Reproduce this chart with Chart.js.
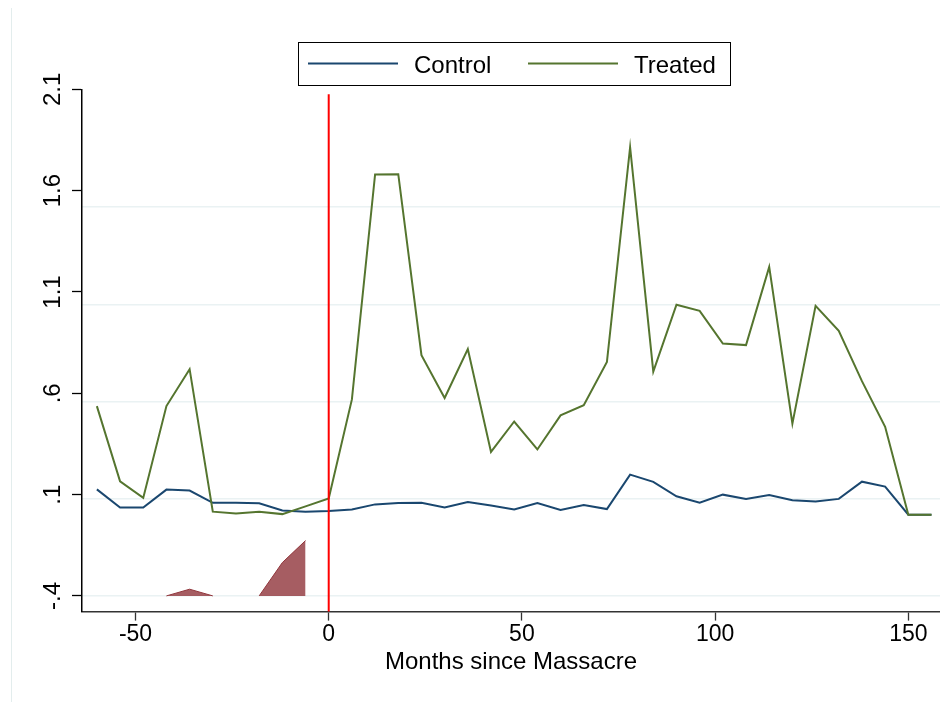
<!DOCTYPE html>
<html>
<head>
<meta charset="utf-8">
<script src="https://cdn.jsdelivr.net/npm/chart.js@4/dist/chart.umd.min.js"></script>
<style>
html, body { margin: 0; padding: 0; background: #fff; }
</style>
</head>
<body>
<canvas id="myChart" width="940" height="702"></canvas>
<script>
var months = [-60, -54, -48, -42, -36, -30, -24, -18, -12, -6, 0,
  6, 12, 18, 24, 30, 36, 42, 48, 54, 60, 66, 72, 78,
  84, 90, 96, 102, 108, 114, 120, 126, 132, 138, 144, 150, 156];

var control = [0.126, 0.037, 0.037, 0.125, 0.120, 0.060, 0.060, 0.057, 0.022, 0.016, 0.019,
  0.027, 0.052, 0.059, 0.060, 0.037, 0.064, 0.046, 0.027, 0.059, 0.024, 0.049, 0.029, 0.199,
  0.163, 0.092, 0.060, 0.100, 0.079, 0.098, 0.072, 0.066, 0.079, 0.164, 0.140, 0.001, 0.001];

var treated = [0.537, 0.166, 0.084, 0.537, 0.719, 0.016, 0.007, 0.016, 0.004, 0.042, 0.081,
  0.570, 1.680, 1.681, 0.788, 0.577, 0.818, 0.311, 0.461, 0.323, 0.491, 0.541, 0.755, 1.814,
  0.707, 1.037, 1.007, 0.846, 0.838, 1.224, 0.450, 1.032, 0.908, 0.660, 0.435, 0.001, 0.001];

// shaded area, drawn on the second (hidden) axis
var shaded = [null, null, null, 0, 0.069, 0, null, 0, 0.343, 0.569, null,
  null, null, null, null, null, null, null, null, null, null, null, null, null,
  null, null, null, null, null, null, null, null, null, null, null, null, null];

var xTicks = [-50, 0, 50, 100, 150];
var yTicks = [-0.4, 0.1, 0.6, 1.1, 1.6, 2.1];
var yTickLabels = ['-.4', '.1', '.6', '1.1', '1.6', '2.1'];
var y2Grid = [0, 1, 2, 3, 4];
var eventMonth = 0;

var font = '"Liberation Sans", Arial, sans-serif';

function pts(vals) {
  return months.map(function (m, i) { return { x: m, y: vals[i] }; });
}

var stataLayer = {
  id: 'stataLayer',
  beforeDraw: function (chart) {
    var c = chart.ctx;
    c.save();
    c.strokeStyle = '#e3eded';
    c.lineWidth = 1;
    c.beginPath();
    c.moveTo(11.5, 8);
    c.lineTo(11.5, 702);
    c.stroke();
    c.restore();
  },
  afterDatasetsDraw: function (chart) {
    var c = chart.ctx, a = chart.chartArea;
    var px = chart.scales.x.getPixelForValue(eventMonth);
    c.save();
    c.strokeStyle = '#ff0000';
    c.lineWidth = 2;
    c.beginPath();
    c.moveTo(px, a.top + 5);
    c.lineTo(px, a.bottom);
    c.stroke();
    c.restore();
  },
  afterDraw: function (chart) {
    var c = chart.ctx, ys = chart.scales.y;
    c.save();
    // rotated y labels
    c.fillStyle = '#000';
    c.font = '24px ' + font;
    c.textAlign = 'center';
    c.textBaseline = 'alphabetic';
    yTicks.forEach(function (v, i) {
      c.save();
      c.translate(60, ys.getPixelForValue(v));
      c.rotate(-Math.PI / 2);
      c.fillText(yTickLabels[i], 0, 0);
      c.restore();
    });
    // legend box
    c.strokeStyle = '#000';
    c.lineWidth = 1;
    c.strokeRect(298.5, 42.5, 432, 43);
    var lx = [308, 528];
    [0, 1].forEach(function (k) {
      var ds = chart.data.datasets[k];
      c.strokeStyle = ds.borderColor;
      c.lineWidth = 2;
      c.beginPath();
      c.moveTo(lx[k], 63.5);
      c.lineTo(lx[k] + 90, 63.5);
      c.stroke();
      c.textAlign = 'left';
      c.fillText(ds.label, lx[k] + 106, 72.5);
    });
    c.restore();
  }
};

var ctx = document.getElementById('myChart');

var myChart = new Chart(ctx, {
  type: 'line',
  data: {
    datasets: [
      {
        label: 'Control',
        data: pts(control),
        borderColor: '#1a476f',
        borderWidth: 2,
        pointRadius: 0,
        fill: false,
        tension: 0,
        order: 2
      },
      {
        label: 'Treated',
        data: pts(treated),
        borderColor: '#55752f',
        borderWidth: 2,
        pointRadius: 0,
        fill: false,
        tension: 0,
        order: 1
      },
      {
        label: 'Shaded',
        data: pts(shaded),
        yAxisID: 'y2',
        borderColor: '#90353b',
        backgroundColor: 'rgba(144, 53, 59, 0.8)',
        borderWidth: 1,
        pointRadius: 0,
        fill: { value: 0 },
        spanGaps: false,
        tension: 0,
        order: 3
      }
    ]
  },
  options: {
    responsive: false,
    animation: false,
    layout: { padding: { top: 89.3, left: 0, right: 0, bottom: 25 } },
    plugins: {
      legend: { display: false },
      tooltip: { enabled: false }
    },
    scales: {
      x: {
        type: 'linear',
        min: -63.85,
        max: 158.2,
        afterBuildTicks: function (s) { s.ticks = xTicks.map(function (v) { return { value: v }; }); },
        grid: { drawOnChartArea: false, tickLength: 9, tickColor: '#333', tickWidth: 1.3 },
        border: { color: '#333', width: 1.5 },
        ticks: {
          color: '#000',
          font: { family: font, size: 23 },
          padding: 0,
          autoSkip: false,
          maxRotation: 0,
          callback: function (v) { return String(v); }
        },
        title: {
          display: true,
          text: 'Months since Massacre',
          color: '#000',
          font: { family: font, size: 24 },
          padding: 0
        }
      },
      y: {
        min: -0.477,
        max: 2.1,
        afterBuildTicks: function (s) { s.ticks = yTicks.map(function (v) { return { value: v }; }); },
        afterFit: function (s) { s.width = 82; },
        grid: { drawOnChartArea: false, tickLength: 10, tickColor: '#000', tickWidth: 1.3 },
        border: { color: '#000', width: 1.5 },
        ticks: { display: false }
      },
      y2: {
        position: 'right',
        min: -0.1615,
        max: 5.213,
        afterBuildTicks: function (s) { s.ticks = y2Grid.map(function (v) { return { value: v }; }); },
        afterFit: function (s) { s.width = 0; },
        grid: { color: '#eaf2f3', lineWidth: 1.5, drawTicks: false },
        border: { display: false },
        ticks: { display: false }
      }
    }
  },
  plugins: [stataLayer]
});
</script>
</body>
</html>
